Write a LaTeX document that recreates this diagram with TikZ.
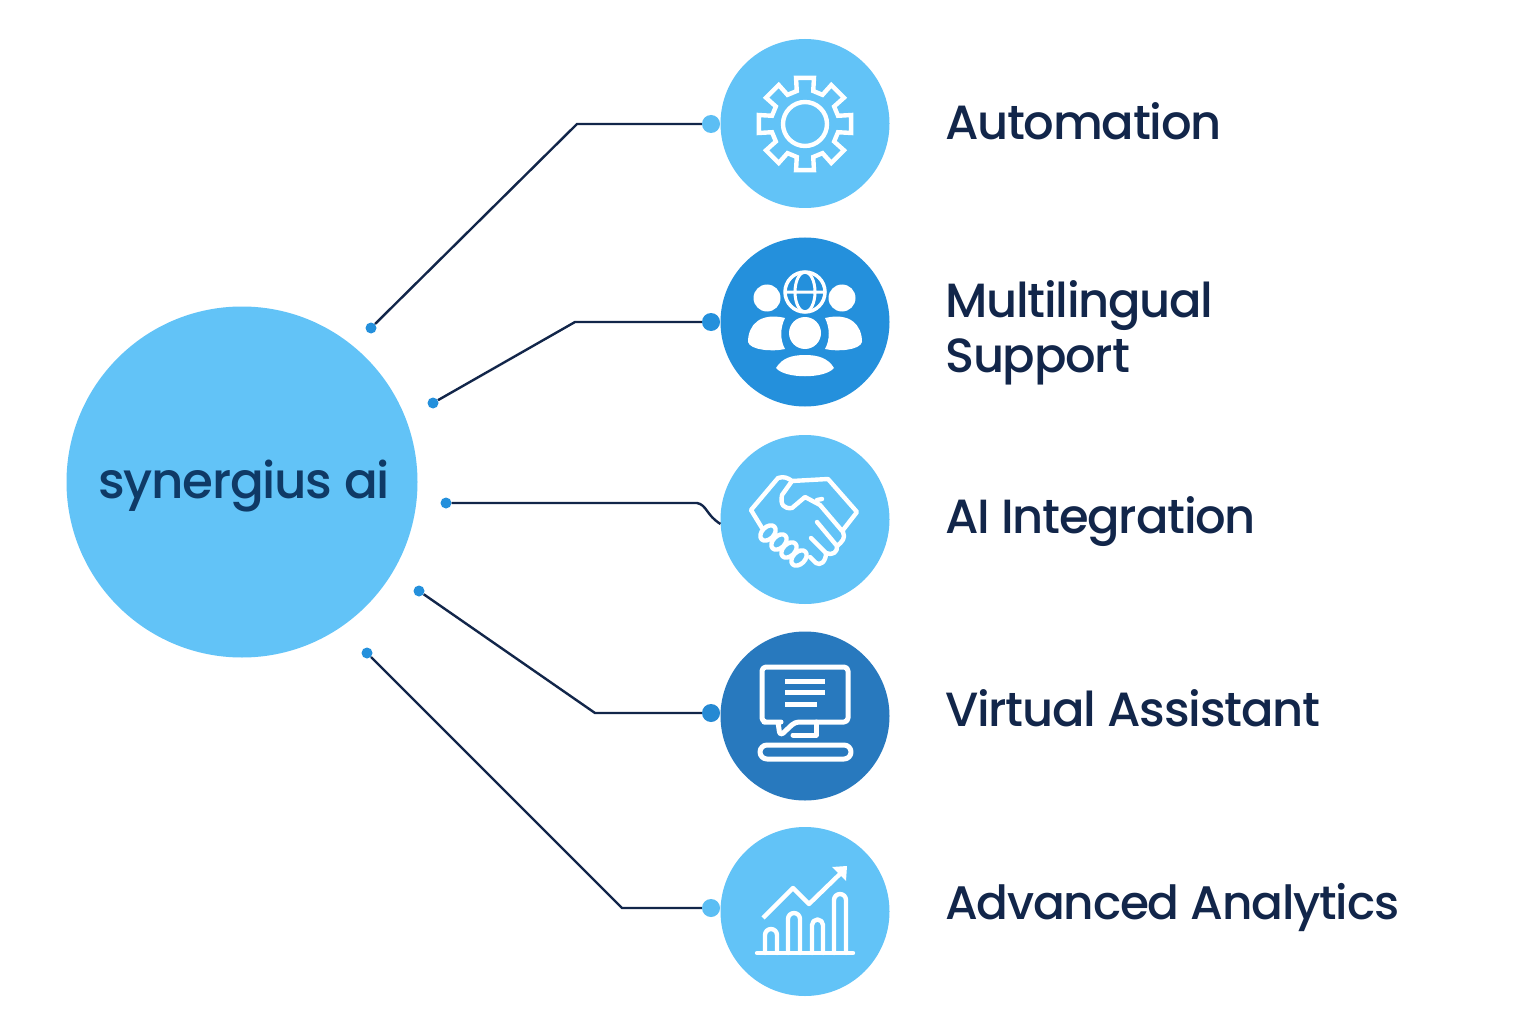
\documentclass[tikz,border=0pt]{standalone}
\usepackage{fontspec}
\setmainfont{Poppins Medium}[LetterSpace=-2.6]
\usepackage{tikz}
\definecolor{sky}{HTML}{62C3F7}
\definecolor{mid}{HTML}{2490DC}
\definecolor{deep}{HTML}{2879BE}
\definecolor{ink}{HTML}{12264A}
\definecolor{hubink}{HTML}{0F3A66}
\begin{document}
\begin{tikzpicture}
		[x=1pt,y=-1pt,
		hub/.style={circle,fill=sky,minimum size=351pt,inner sep=0pt},
		n/.style={circle,minimum size=169pt,inner sep=0pt},
		dot/.style={circle,fill=mid,minimum size=11pt,inner sep=0pt},
		port/.style={circle,minimum size=18pt,inner sep=0pt},
		lbl/.style={anchor=base west,text=ink,align=left,inner sep=0pt,font=\fontsize{48}{55}\selectfont},
		wire/.style={draw=ink,line width=2.4pt},
		ic/.style={draw=white,line width=4.4pt,line join=round,line cap=round},
		icf/.style={fill=white}]

		\path[use as bounding box,fill=white] (0,0) rectangle (1536,1024);

		\node[hub] (h0) at (242,482) {};
		\node[text=hubink,anchor=base,inner sep=0pt,font=\fontsize{50}{56}\selectfont] (t0) at (244,498) {synergius ai};

		\node[n,fill=sky] (h1) at (805,123.5) {};
		\node[n,fill=mid] (h2) at (805,322) {};
		\node[n,fill=sky] (h3) at (805,519.5) {};
		\node[n,fill=deep] (h4) at (805,716) {};
		\node[n,fill=sky] (h5) at (805,911.5) {};

		\node[port,fill=sky!90!mid] (p1) at (711,124) {};
		\node[port,fill=mid] (p2) at (711,322) {};
		\node[port,fill=mid!70!deep] (p4) at (711,713) {};
		\node[port,fill=sky!90!mid] (p5) at (711,908) {};

		\node[dot] (d1) at (371,328) {};
		\node[dot] (d2) at (433,403) {};
		\node[dot] (d3) at (446,503) {};
		\node[dot] (d4) at (419,591) {};
		\node[dot] (d5) at (367,653) {};

		\coordinate (b1) at (577,124);
		\coordinate (b2) at (575,322);
		\coordinate (b3) at (697,503);
		\coordinate (b4) at (595,713);
		\coordinate (b5) at (622,908);

		\draw[wire] (d1) -- (b1) -- (p1);
		\draw[wire] (d2) -- (b2) -- (p2);
		\draw[wire] (d3) -- (b3) .. controls (707,505) and (706,515) .. (h3.183);
		\draw[wire] (d4) -- (b4) -- (p4);
		\draw[wire] (d5) -- (b5) -- (p5);

		\node[lbl] (l1) at (945,140) {Automation};
		\node[lbl,anchor=west] (l2) at (945,333) {Multilingual\\Support};
		\node[lbl] (l3) at (945,533) {AI Integration};
		\node[lbl] (l4) at (945,726) {Virtual Assistant};
		\node[lbl,font=\fontsize{47}{55}\selectfont] (l5) at (945,919) {Advanced Analytics};

		% gear
		\begin{scope}[shift={(805,124)}]
			\draw[ic,line join=miter,miter limit=2] (-11:47)
				\foreach \a in {0,45,...,315} {
					-- (\a-11:47) -- (\a+11:47) -- (\a+14:34) -- (\a+31:34)
				} -- cycle;
			\draw[ic] (0,0) circle (22);
		\end{scope}

		% people and globe
		\fill[icf] (767,298) circle (13.5);
		\fill[icf] (842,298) circle (13.5);
		\fill[icf] (805,333) circle (16);
		\fill[icf] (785,318) .. controls (760,312) and (748,325) .. (748,342)
			.. controls (750,350) and (772,352) .. (785,349)
			.. controls (780,340) and (780,328) .. (785,318) -- cycle;
		\fill[icf] (825,318) .. controls (850,312) and (862,325) .. (862,342)
			.. controls (860,350) and (838,352) .. (825,349)
			.. controls (830,340) and (830,328) .. (825,318) -- cycle;
		\fill[icf] (776,368) .. controls (782,358) and (792,355) .. (805,355)
			.. controls (818,355) and (828,358) .. (834,368)
			.. controls (825,379) and (785,379) .. (776,368) -- cycle;
		\draw[ic,line width=3.5pt,fill=mid] (805,292) circle (20);
		\draw[ic,line width=3pt] (805,292) ellipse (10 and 20) (785,292) -- (825,292);

		% handshake
		\begin{scope}[ic]
			\draw (762,528) -- (751,510) -- (778,478) .. controls (784,476) and (788,478) .. (792,481)
				-- (828,479) -- (857,512) -- (843,530);
			\draw (792,481) -- (782,495) .. controls (780,505) and (784,509) .. (792,508)
				-- (805,497) -- (820,505) -- (843,532) .. controls (846,538) and (842,542) .. (837,546);
			\draw (817,500) -- (822,499);
			\draw (817,522) -- (837,546) .. controls (838,552) and (832,556) .. (826,553) -- (811,538);
			\draw (826,553) .. controls (826,562) and (820,566) .. (816,563) -- (810,557);
			\draw[rotate around={45:(768,533)}] (768,533) ellipse (9 and 6);
			\draw[rotate around={45:(779,542)}] (779,542) ellipse (9 and 6);
			\draw[rotate around={45:(789,550)}] (789,550) ellipse (9 and 6);
			\draw[rotate around={45:(799,558)}] (799,558) ellipse (9 and 6);
		\end{scope}

		% monitor and chat bubble
		\draw[ic,line width=5pt,rounded corners=4pt] (781,722) -- (768,722) -- (762,722) -- (762,667) -- (848,667) -- (848,722) -- (795,722) -- (780,736) -- (778,722);
		\draw[ic,line width=5pt] (816,722) -- (816,735) -- (793,735);
		\draw[ic,line width=5pt,line cap=butt] (785,681) -- (825,681) (785,692) -- (825,692) (785,704) -- (817,704);
		\draw[ic,line width=5pt,rounded corners=7pt] (760,745) rectangle (851,759);

		% chart
		\draw[ic] (757,953) -- (853,953);
		\draw[ic] (765,953) -- (765,935) arc[start angle=180,end angle=360,radius=6] -- (777,953);
		\draw[ic] (788,953) -- (788,919) arc[start angle=180,end angle=360,radius=6] -- (800,953);
		\draw[ic] (812,953) -- (812,925) arc[start angle=180,end angle=360,radius=5.5] -- (823,953);
		\draw[ic] (834,953) -- (834,900) arc[start angle=180,end angle=360,radius=6] -- (846,953);
		\draw[ic,line cap=butt] (763,918) -- (793,888) -- (809,904) -- (842,872);
		\fill[icf] (832,867) -- (847,866) -- (846,881) -- cycle;
\end{tikzpicture}
\end{document}
